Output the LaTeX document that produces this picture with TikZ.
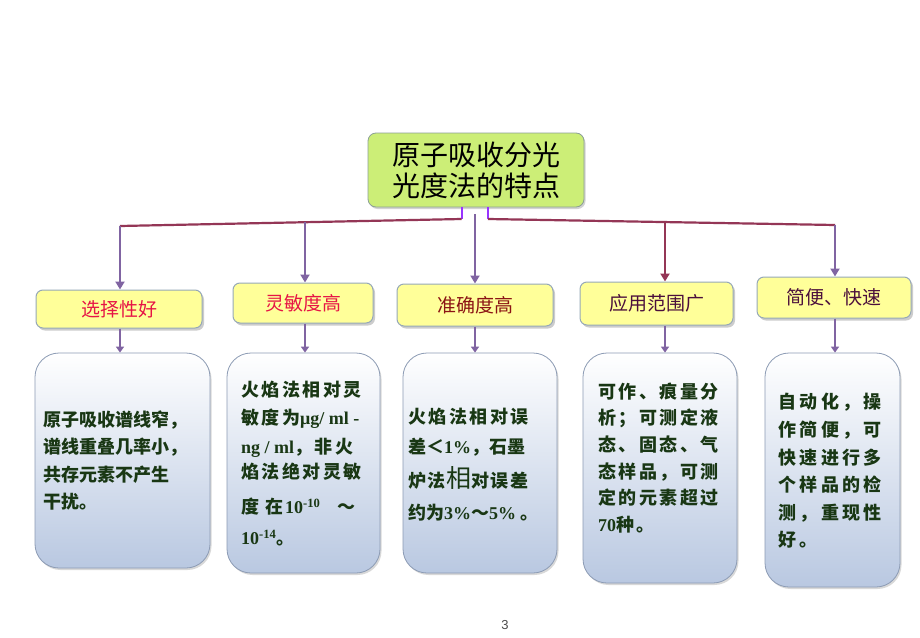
\documentclass[tikz,border=0pt]{standalone}
\usepackage{fontspec}
\setmainfont{Noto Sans CJK SC}
\newfontfamily\latf{Liberation Serif}
\newfontfamily\pagefont{Liberation Sans}
\usetikzlibrary{arrows.meta,shadows}
\definecolor{topgreen}{RGB}{204,238,119}
\definecolor{topline}{RGB}{140,160,150}
\definecolor{lvfill}{RGB}{255,255,153}
\definecolor{lvline}{RGB}{150,168,184}
\definecolor{boxbot}{RGB}{185,200,225}
\definecolor{boxline}{RGB}{140,155,180}
\definecolor{txtgreen}{RGB}{25,55,20}
\definecolor{redA}{RGB}{230,20,70}
\definecolor{redB}{RGB}{139,20,20}
\definecolor{purA}{RGB}{75,15,60}
\definecolor{arrcol}{RGB}{128,100,162}
\definecolor{maroon}{RGB}{148,54,86}
\definecolor{violetc}{RGB}{153,51,255}
\newcommand\lt[1]{{\latf\bfseries #1}}
\begin{document}
\begin{tikzpicture}[x=1pt,y=-1pt,
  topbox/.style={draw=topline, line width=0.8pt, fill=topgreen, rounded corners=8pt,
    drop shadow={shadow xshift=1.5pt, shadow yshift=-2pt, opacity=0.35},
    align=center, inner sep=0pt, font=\fontsize{28}{31}\selectfont},
  lbox/.style={draw=lvline, line width=1pt, fill=lvfill, rounded corners=7pt,
    drop shadow={shadow xshift=2pt, shadow yshift=-2.5pt, opacity=0.4},
    inner sep=0pt, font=\fontsize{19}{19}\selectfont},
  cbox/.style={draw=boxline, line width=0.8pt, rounded corners=24pt, top color=white, bottom color=boxbot,
    drop shadow={shadow xshift=1.5pt, shadow yshift=-2pt, opacity=0.3}},
  ln/.style={anchor=west, inner sep=0pt, text=txtgreen, text height=15.84pt, text depth=2.16pt,
    font=\fontsize{18}{18}\selectfont\bfseries\addfontfeature{LetterSpace=#1}},
  ln/.default=0,
  mar/.style={draw=maroon, line width=2.2pt},
  vio/.style={draw=violetc, line width=2pt},
  arr/.style={draw=arrcol, line width=2.4pt, -{Triangle[width=9pt,length=8pt]}},
  arrm/.style={draw=maroon, line width=2.4pt, -{Triangle[width=9pt,length=8pt]}},
  arrs/.style={draw=arrcol, line width=2.4pt, -{Triangle[width=8pt,length=6pt]}}
]
\useasboundingbox[fill=white] (0,0) rectangle (920,637);

% top node
\node[topbox, minimum width=216pt, minimum height=74pt] (top) at (476,170) {原子吸收分光\\光度法的特点};

% level nodes
\node[lbox, minimum width=166pt, minimum height=38pt, text=redA] (l1) at (119,309) {选择性好};
\node[lbox, minimum width=140pt, minimum height=40pt, text=redA] (l2) at (303,303) {灵敏度高};
\node[lbox, minimum width=156pt, minimum height=42pt, text=redB] (l3) at (475,305) {准确度高};
\node[lbox, minimum width=153pt, minimum height=43pt, text=purA] (l4) at (656.5,303.5) {应用范围广};
\node[lbox, minimum width=154pt, minimum height=41pt, text=purA] (l5) at (834,297.5) {简便、快速};

% content boxes
\node[cbox, minimum width=175pt, minimum height=215pt] (c1) at (122.5,460.5) {};
\node[cbox, minimum width=153pt, minimum height=220pt] (c2) at (303.5,463) {};
\node[cbox, minimum width=154pt, minimum height=220pt] (c3) at (480,463) {};
\node[cbox, minimum width=154pt, minimum height=230pt] (c4) at (660,468) {};
\node[cbox, minimum width=135pt, minimum height=234pt] (c5) at (832.5,470) {};

% connectors from the top node
\coordinate (jl) at (461.5,219);
\coordinate (kl) at (120,226);
\coordinate (jr) at (488,219);
\coordinate (kr) at (835,225);
\coordinate (k2) at (305,222.2);
\coordinate (k3) at (475,214);
\coordinate (k4) at (665,222);
\draw[vio] (top.south -| jl) -- (jl);
\draw[vio] (top.south -| jr) -- (jr);
\draw[mar, line join=miter] (jl) -- (kl);
\draw[mar, line join=miter] (jr) -- (kr);
\draw[arr] (kl) -- (kl |- l1.north);
\draw[arr] (k2) -- (k2 |- l2.north);
\draw[arr] (k3) -- (k3 |- l3.north);
\draw[arrm] (k4) -- (k4 |- l4.north);
\draw[arr] (kr) -- (kr |- l5.north);

% level to content arrows
\draw[arrs] (l1.south -| kl) -- (kl |- c1.north);
\draw[arrs] (l2.south -| k2) -- (k2 |- c2.north);
\draw[arrs] (l3.south -| k3) -- (k3 |- c3.north);
\draw[arrs] (l4.south -| k4) -- (k4 |- c4.north);
\draw[arrs] (l5.south -| kr) -- (kr |- c5.north);

% box 1 text
\node[ln] (t11) at (43,420) {原子吸收谱线窄，};
\node[ln] (t12) at (43,447) {谱线重叠几率小，};
\node[ln] (t13) at (43,475) {共存元素不产生};
\node[ln] (t14) at (43,502) {干扰。};

% box 2 text
\node[ln=14] (t21) at (241,390) {火焰法相对灵};
\node[ln=14] (t22) at (241,418) {敏度为\lt{μg/ ml -}};
\node[ln=14] (t23) at (241,447) {\lt{ng / ml}，非火};
\node[ln=14] (t24) at (241,472) {焰法绝对灵敏};
\node[ln=14] (t25) at (241,507) {度\hspace{6pt}在\hspace{2pt}\lt{10\textsuperscript{-10}}\hspace{17pt}～};
\node[ln=14] (t26) at (241,538) {\lt{10\textsuperscript{-14}}。};

% box 3 text
\node[ln=14] (t31) at (408,417) {火焰法相对误};
\node[ln=0] (t32) at (408,447) {差＜\lt{1\%}，石墨};
\node[ln=10] (t33) at (408,481) {炉法{\mdseries\fontsize{25}{25}\selectfont 相}对误差};
\node[ln=0] (t34) at (408,513) {约为\lt{3\%}～\lt{5\%}\hspace{4pt}。};

% box 4 text
\node[ln=14] (t41) at (598,392) {可作、痕量分};
\node[ln=14] (t42) at (598,418) {析；可测定液};
\node[ln=14] (t43) at (598,445) {态、固态、气};
\node[ln=14] (t44) at (598,472) {态样品，可测};
\node[ln=14] (t45) at (598,498) {定的元素超过};
\node[ln=14] (t46) at (598,525) {\lt{70}种。};

% box 5 text
\node[ln=19] (t51) at (778,402) {自动化，操};
\node[ln=19] (t52) at (778,430) {作简便，可};
\node[ln=19] (t53) at (778,458) {快速进行多};
\node[ln=19] (t54) at (778,485) {个样品的检};
\node[ln=19] (t55) at (778,513) {测，重现性};
\node[ln=19] (t56) at (778,540) {好。};

% page number
\node[text=black!70, inner sep=0pt, font=\pagefont\fontsize{13}{13}\selectfont] (pg) at (505,625) {3};
\end{tikzpicture}
\end{document}
